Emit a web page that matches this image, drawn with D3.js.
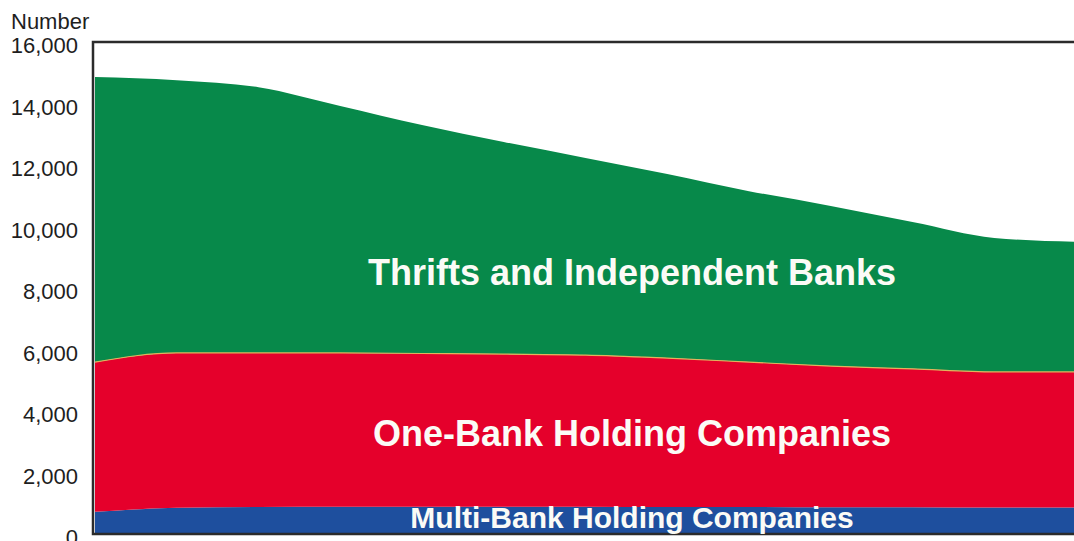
<!DOCTYPE html>
<html>
<head>
<meta charset="utf-8">
<script src="https://cdn.jsdelivr.net/npm/d3@7/dist/d3.min.js"></script>
<style>
  html, body { margin: 0; padding: 0; background: #ffffff; }
  svg { display: block; font-family: "Liberation Sans", Arial, Helvetica, sans-serif; }
</style>
</head>
<body>
<svg id="chart" width="1074" height="541"></svg>
<script>
// Successive reporting periods along the horizontal axis
const periods = [1, 2, 3, 4, 5, 6, 7, 8, 9, 10, 11, 12, 13];

// Number of organizations in each group
const multiBank = [720, 850, 880, 890, 890, 890, 890, 880, 880, 870, 870, 860, 860];
const oneBank   = [4870, 5040, 5010, 5000, 4980, 4960, 4930, 4840, 4710, 4590, 4500, 4410, 4410];
const thrifts   = [9270, 8870, 8640, 8030, 7430, 6900, 6410, 5990, 5560, 5210, 4780, 4360, 4230];

const yTicks = [0, 2000, 4000, 6000, 8000, 10000, 12000, 14000, 16000];

const seriesNames = ["Multi-Bank Holding Companies", "One-Bank Holding Companies", "Thrifts and Independent Banks"];
const seriesColors = ["#1e4f9e", "#e5002b", "#07894a"];
const seriesValues = [multiBank, oneBank, thrifts];

const svg = d3.select("#chart");
const plotLeft = 93, plotTop = 42, plotBottom = 534, plotRight = 1090;

const x = d3.scaleLinear().domain([periods[0], periods[periods.length - 1]]).range([95, 1076]);
const y = d3.scaleLinear().domain([0, 16000]).range([plotBottom, plotTop]);

const rows = periods.map((p, i) => {
  const r = { period: p };
  seriesNames.forEach((n, k) => { r[n] = seriesValues[k][i]; });
  return r;
});

const stacked = d3.stack().keys(seriesNames)(rows);

svg.append("clipPath").attr("id", "plot-clip")
  .append("rect").attr("x", plotLeft).attr("y", plotTop)
  .attr("width", plotRight - plotLeft).attr("height", plotBottom - plotTop);

const area = d3.area()
  .curve(d3.curveMonotoneX)
  .x(d => x(d.data.period))
  .y0(d => y(d[0]))
  .y1(d => y(d[1]));

const g = svg.append("g").attr("clip-path", "url(#plot-clip)");

g.selectAll("path.layer")
  .data(stacked)
  .join("path")
  .attr("class", "layer")
  .attr("d", area)
  .attr("fill", (d, i) => seriesColors[i]);

// thin light seam between the holding companies and the thrifts layer
g.append("path")
  .datum(stacked[1])
  .attr("d", d3.line().curve(d3.curveMonotoneX).x(d => x(d.data.period)).y(d => y(d[1])))
  .attr("fill", "none")
  .attr("stroke", "#e2b35c")
  .attr("stroke-width", 1.2);

// plot frame
svg.append("rect")
  .attr("x", plotLeft).attr("y", plotTop)
  .attr("width", plotRight - plotLeft).attr("height", plotBottom - plotTop)
  .attr("fill", "none")
  .attr("stroke", "#2b2b2b")
  .attr("stroke-width", 2.5);

// y axis labels
const yAxis = d3.axisLeft(y).tickValues(yTicks).tickFormat(d3.format(",")).tickSize(0).tickPadding(0);
const ax = svg.append("g").attr("transform", "translate(78,0)").call(yAxis);
ax.select(".domain").remove();
ax.selectAll("text")
  .attr("font-size", 22)
  .attr("font-family", "\"Liberation Sans\", Arial, sans-serif")
  .attr("fill", "#1e1e1e")
  .attr("dy", "0.48em");

svg.append("text")
  .attr("x", 11).attr("y", 29)
  .attr("font-size", 22)
  .attr("fill", "#1e1e1e")
  .text("Number");

// series labels inside the bands
const labelSpecs = [
  { name: seriesNames[2], y: 285, size: 36 },
  { name: seriesNames[1], y: 446, size: 36 },
  { name: seriesNames[0], y: 528, size: 30 }
];
svg.selectAll("text.band-label")
  .data(labelSpecs)
  .join("text")
  .attr("class", "band-label")
  .attr("x", 632)
  .attr("y", d => d.y)
  .attr("text-anchor", "middle")
  .attr("font-size", d => d.size)
  .attr("font-weight", "bold")
  .attr("fill", "#fbfbf6")
  .text(d => d.name);
</script>
</body>
</html>
